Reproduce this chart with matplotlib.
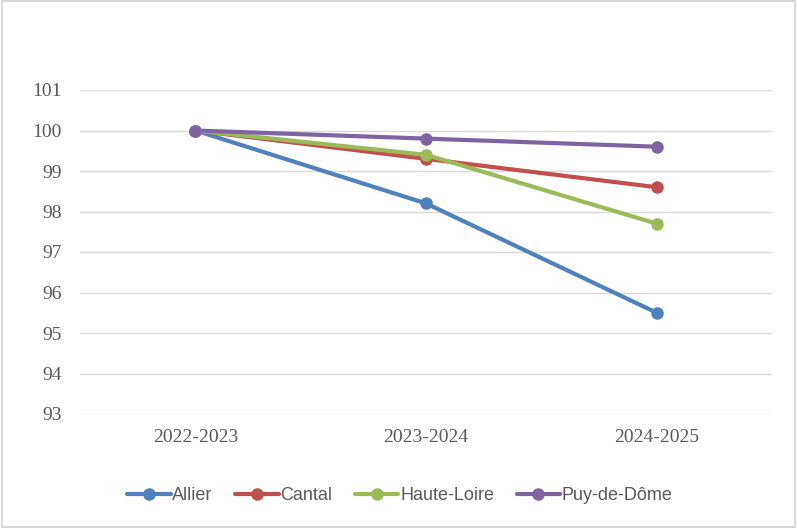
import matplotlib.pyplot as plt
from matplotlib.patches import Rectangle

years = ["2022-2023", "2023-2024", "2024-2025"]
allier = [100, 98.2, 95.5]
cantal = [100, 99.3, 98.6]
haute_loire = [100, 99.4, 97.7]
puy_de_dome = [100, 99.8, 99.6]

series = [
    ("Allier", allier, "#4F81BD"),
    ("Cantal", cantal, "#C0504D"),
    ("Haute-Loire", haute_loire, "#9BBB59"),
    ("Puy-de-Dôme", puy_de_dome, "#8064A2"),
]

fig = plt.figure(figsize=(7.97, 5.28), dpi=100)
ax = fig.add_axes([80/797, 1-414/528, 692/797, 324/528])

x = range(len(years))
for name, vals, col in series:
    ax.plot(x, vals, color=col, lw=3, marker="o", ms=8, label=name,
            solid_capstyle="round")

ax.set_xlim(-0.5, 2.5)
ax.set_ylim(93, 101)
ax.set_yticks(range(93, 102))
ax.set_xticks(list(x))
ax.set_xticklabels(years)
ax.grid(axis="y", color="#d9d9d9", lw=1)
ax.set_axisbelow(True)
for s in ax.spines.values():
    s.set_visible(False)
ax.tick_params(length=0, labelsize=14, labelcolor="#595959")
ax.tick_params(axis="y", pad=13)
ax.tick_params(axis="x", pad=11)
for lab in ax.get_xticklabels() + ax.get_yticklabels():
    lab.set_family("Liberation Serif")

leg = fig.legend(loc="center", bbox_to_anchor=(400/797, 1-496/528), ncol=4,
                 frameon=False, prop={"family": "Liberation Sans", "size": 13},
                 handlelength=2.4, handletextpad=0.1, columnspacing=1.25)
for t in leg.get_texts():
    t.set_color("#595959")

fig.patches.append(Rectangle((0.002, 0.002), 0.996, 0.996, transform=fig.transFigure,
                             fill=False, edgecolor="#d9d9d9", lw=1.5))

fig.savefig("out.png", dpi=100)
